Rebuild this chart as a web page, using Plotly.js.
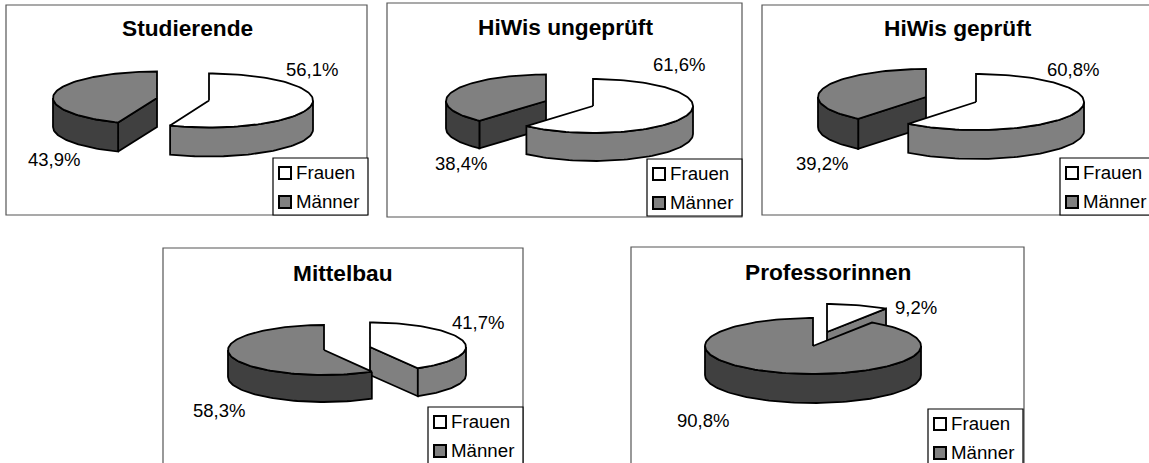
<!DOCTYPE html>
<html><head><meta charset="utf-8">
<script src="https://cdn.plot.ly/plotly-3.0.1.min.js"></script>
<style>html,body{margin:0;padding:0;background:#fff;overflow:hidden}#c{width:1149px;height:463px}</style>
</head><body><div id="c"></div>
<script>
// ---- data ----
const groups = ["Studierende", "HiWis ungeprüft", "HiWis geprüft", "Mittelbau", "Professorinnen"];
const seriesNames = ["Frauen", "Männer"];
const frauen = [56.1, 61.6, 60.8, 41.7, 9.2];
const maenner = [43.9, 38.4, 39.2, 58.3, 90.8];

// ---- layout of each panel (page pixels) ----
const frames = [[6,5,367,215],[387,3,742,217],[762,5,1160,215],[163,248,523,475],[631,247,1024,475]];
const legendBoxes = [[273,158],[647,159],[1060,158],[428,407],[928,409]];
const titlePos = [[187,28],[565,27],[958,28],[343,273],[828,272]];
const frauenLabelPos = [[312,69],[679,64],[1073,69],[478,322],[916,307]];
const maennerLabelPos = [[54,159],[461,163],[822,163],[219,410],[703,420]];
// cx, cy, rx, ry, depth
const frauenPie = [[209,100.5,104,27,29],[593,106,100,27,28],[976,102,108,28,29],[370,347,96,24.5,28],[827,332,108,28,28]];
const maennerPie = [[157,98,104,26.5,29],[546,101,100,26.5,27.5],[926,97,108,28,30],[324,350,96,25,27],[813,346,108,28,29]];
const frauenOnTop = [true,true,true,false,false];

const FRAUEN_TOP="#ffffff", FRAUEN_SIDE="#808080", MAENNER_TOP="#808080", MAENNER_SIDE="#404040";
const FONT="Liberation Sans, Arial, sans-serif";

const rad = d => d*Math.PI/180;
function pt(p,deg,dz){return [p[0]+p[2]*Math.sin(rad(deg)), p[1]-p[3]*Math.cos(rad(deg))+(dz||0)];}
function arc(p,a,b,dz){const n=Math.max(2,Math.ceil(Math.abs(b-a)/2)),o=[];for(let i=0;i<=n;i++)o.push(pt(p,a+(b-a)*i/n,dz));return o;}
function poly(points,fill){
  const c=points.concat([points[0]]);
  return {type:"scatter",mode:"lines",x:c.map(q=>q[0]),y:c.map(q=>q[1]),fill:"toself",fillcolor:fill,
    line:{color:"#000",width:1.8,shape:"linear"},hoverinfo:"skip",showlegend:false};
}
function slice(p,a,b,top,side){
  const out=[],d=p[4],apex=[p[0],p[1]],apexB=[p[0],p[1]+d];
  if(-Math.sin(rad(a))>1e-6){const s=pt(p,a);out.push(poly([apex,s,[s[0],s[1]+d],apexB],side));}
  if(Math.sin(rad(b))>1e-6){const e=pt(p,b);out.push(poly([apex,e,[e[0],e[1]+d],apexB],side));}
  const w0=Math.max(a,90),w1=Math.min(b,270);
  if(w1>w0){out.push(poly(arc(p,w0,w1,0).concat(arc(p,w1,w0,d)),side));}
  out.push(poly([apex].concat(arc(p,a,b,0)),top));
  return out;
}

const traces=[],shapes=[],annotations=[];
const fmt=v=>v.toFixed(1).replace(".",",")+"%";
function note(text,pos,size,bold){
  annotations.push({x:pos[0],y:pos[1],xref:"x",yref:"y",text:bold?"<b>"+text+"</b>":text,showarrow:false,
    xanchor:"center",yanchor:"middle",font:{family:FONT,size:size,color:"#000"}});
}
groups.forEach((g,i)=>{
  const f=frames[i];
  shapes.push({type:"rect",xref:"x",yref:"y",x0:f[0],y0:f[1],x1:f[2],y1:f[3],line:{color:"#555",width:1.2},fillcolor:"#fff",layer:"below"});
  const split=frauen[i]*3.6;
  const fs=slice(frauenPie[i],0,split,FRAUEN_TOP,FRAUEN_SIDE);
  const ms=slice(maennerPie[i],split,360,MAENNER_TOP,MAENNER_SIDE);
  (frauenOnTop[i]?ms.concat(fs):fs.concat(ms)).forEach(t=>traces.push(t));
  note(g,titlePos[i],22.7,true);
  note(fmt(frauen[i]),frauenLabelPos[i],18.5,false);
  note(fmt(maenner[i]),maennerLabelPos[i],18.5,false);
  const L=legendBoxes[i];
  shapes.push({type:"rect",xref:"x",yref:"y",x0:L[0],y0:L[1],x1:L[0]+95,y1:L[1]+57,line:{color:"#000",width:1.2},fillcolor:"#fff",layer:"below"});
  traces.push({type:"scatter",mode:"markers",x:[L[0]+12,L[0]+12],y:[L[1]+15,L[1]+44],
    marker:{symbol:"square",size:12,color:[FRAUEN_TOP,MAENNER_TOP],line:{color:"#000",width:2}},
    hoverinfo:"skip",showlegend:false});
  traces.push({type:"scatter",mode:"text",x:[L[0]+23,L[0]+23],y:[L[1]+16,L[1]+45],
    text:seriesNames,textposition:"middle right",textfont:{family:FONT,size:18.7,color:"#000"},
    hoverinfo:"skip",showlegend:false});
});

const axis={visible:false,fixedrange:true,showgrid:false,zeroline:false};
Plotly.newPlot("c",traces,{
  width:1149,height:463,margin:{l:0,r:0,t:0,b:0},paper_bgcolor:"#fff",plot_bgcolor:"#fff",showlegend:false,
  xaxis:Object.assign({range:[0,1149]},axis),
  yaxis:Object.assign({range:[463,0]},axis),
  shapes:shapes,annotations:annotations
},{displayModeBar:false,staticPlot:true});
</script></body></html>
